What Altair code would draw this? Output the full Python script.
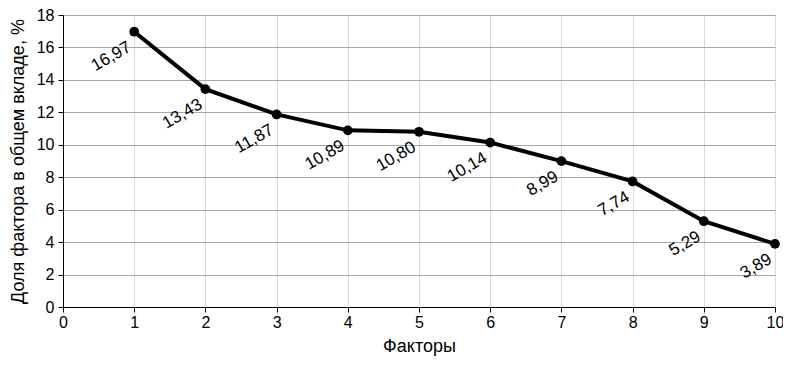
import altair as alt
import pandas as pd

factors = [1, 2, 3, 4, 5, 6, 7, 8, 9, 10]
shares = [16.97, 13.43, 11.87, 10.89, 10.80, 10.14, 8.99, 7.74, 5.29, 3.89]
labels = ["16,97", "13,43", "11,87", "10,89", "10,80", "10,14", "8,99", "7,74", "5,29", "3,89"]

df = pd.DataFrame({"f": factors, "v": shares, "lab": labels})

FONT = "Liberation Sans"

x = alt.X("f:Q", title="Факторы",
          scale=alt.Scale(domain=[0, 10], nice=False, zero=True),
          axis=alt.Axis(values=list(range(0, 11)), gridColor="#d9d9d9", tickColor="black",
                        domainColor="black", labelFontSize=16, titleFontSize=18,
                        labelFont=FONT, titleFont=FONT, labelColor="black", titleColor="black",
                        titleFontWeight="normal", tickSize=5, labelPadding=2, titlePadding=7,
                        labelFlush=False))
y = alt.Y("v:Q", title="Доля фактора в общем вкладе, %",
          scale=alt.Scale(domain=[0, 18], nice=False),
          axis=alt.Axis(values=list(range(0, 19, 2)), gridColor="#a6a6a6", tickColor="black",
                        domainColor="black", labelFontSize=16, titleFontSize=18,
                        labelFont=FONT, titleFont=FONT, labelColor="black", titleColor="black",
                        titleFontWeight="normal", tickSize=5, labelPadding=4, titlePadding=9))

base = alt.Chart(df)
line = base.mark_line(color="black", strokeWidth=4).encode(x=x, y=y)
pts = base.mark_circle(color="black", size=95, opacity=1).encode(x=x, y=y)
txt = base.mark_text(align="right", baseline="middle", angle=330, fontSize=17, font=FONT,
                     color="black", dx=-11, dy=10).encode(x=x, y=y, text="lab:N")

chart = (line + pts + txt).properties(
    width=712, height=292,
    autosize=alt.AutoSizeParams(type="none"),
    padding={"left": 55, "top": 7, "right": 8, "bottom": 51},
).configure_view(stroke=None).configure_axis(gridWidth=1)

chart.save("out.html", embed_options={"renderer": "svg", "actions": False})
